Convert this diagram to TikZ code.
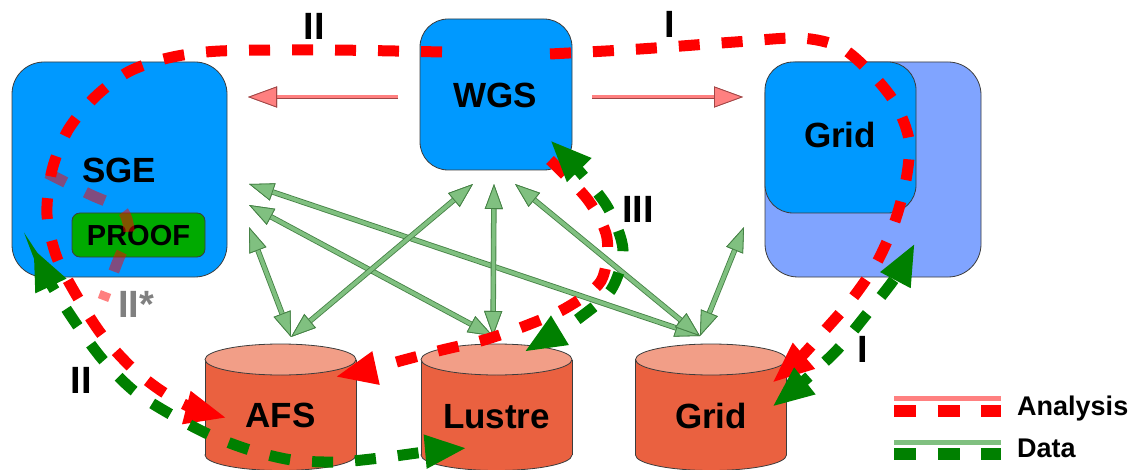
\documentclass[tikz,border=0pt]{standalone}
\usepackage{fontspec}
\setmainfont{Liberation Sans}
\usetikzlibrary{arrows.meta}
\definecolor{boxblue}{RGB}{0,153,255}
\definecolor{backblue}{RGB}{128,164,255}
\definecolor{proofgreen}{RGB}{0,170,0}
\definecolor{cylbody}{RGB}{234,97,64}
\definecolor{cyltop}{RGB}{242,158,135}
\definecolor{edgegray}{RGB}{60,60,60}
\definecolor{anared}{RGB}{255,0,0}
\definecolor{datagreen}{RGB}{0,128,0}
\definecolor{anapink}{RGB}{255,128,128}
\definecolor{anaborder}{RGB}{160,70,70}
\definecolor{datalight}{RGB}{128,192,128}
\definecolor{databorder}{RGB}{70,130,70}
\definecolor{labelgray}{RGB}{128,128,128}
\tikzset{
  sysbox/.style={draw=edgegray, line width=0.8pt, fill=boxblue, inner sep=0pt},
  bigtext/.style={font=\fontsize{35}{40}\selectfont\bfseries, inner sep=0pt, anchor=base},
  routelbl/.style={font=\fontsize{38}{42}\selectfont\bfseries, inner sep=0pt, anchor=base},
  legtext/.style={font=\fontsize{27}{30}\selectfont\bfseries, inner sep=0pt, anchor=base west},
  cylline/.style={draw=edgegray, line width=0.8pt},
  pinkarrow/.style={draw=anapink, line width=3pt,
    -{Triangle[length=29pt,width=21pt,fill=anapink,color=anaborder,line width=0.8pt]},
    preaction={draw=anaborder, line width=4.6pt}},
  greenarrow/.style={draw=datalight, line width=3.8pt,
    {Triangle[length=25pt,width=18pt,fill=datalight,color=databorder,line width=0.8pt]}-{Triangle[length=25pt,width=18pt,fill=datalight,color=databorder,line width=0.8pt]},
    preaction={draw=databorder, line width=5.5pt}},
  routeline/.style={line width=11pt, dash pattern=on 21pt off 22pt},
  anaroute/.style={routeline, draw=anared},
  dataroute/.style={routeline, draw=datagreen},
  headend/.style={-{Triangle[length=42pt,width=31pt]}},
  headboth/.style={{Triangle[length=42pt,width=31pt]}-{Triangle[length=42pt,width=31pt]}},
}
\newcommand\drawcyl[1]{%
  \fill[cylbody, cylline] (#1,455) ellipse [x radius=75.5, y radius=15.5];
  \fill[cylbody] (#1-75.5,359.5) rectangle (#1+75.5,455);
  \draw[cylline] (#1-75.5,359.5) -- (#1-75.5,455) (#1+75.5,359.5) -- (#1+75.5,455);
  \filldraw[fill=cyltop, cylline] (#1,359.5) ellipse [x radius=75.5, y radius=15.5];
}
\begin{document}
\begin{tikzpicture}[x=1pt,y=-1pt]
\useasboundingbox (0,0) rectangle (1134,470);

% boxes
\node[sysbox, rounded corners=32pt, minimum width=215pt, minimum height=215pt] (sge) at (119.5,169.5) {};
\node[draw=edgegray, line width=0.8pt, fill=proofgreen, rounded corners=8pt, minimum width=133pt, minimum height=44pt, inner sep=0pt] (proof) at (138.5,235) {};
\node[sysbox, rounded corners=28pt, minimum width=152pt, minimum height=151pt] (wgs) at (496,94.5) {};
\node[sysbox, fill=backblue, rounded corners=33pt, minimum width=216pt, minimum height=215pt] (gridback) at (873,169.5) {};
\node[sysbox, rounded corners=28pt, minimum width=151pt, minimum height=151pt] (gridfront) at (840.5,137.5) {};

% cylinders
\drawcyl{280.5}
\drawcyl{496.5}
\drawcyl{711}

% texts of boxes
\node[bigtext] (sget) at (119,183) {SGE};
\node[font=\fontsize{29}{32}\selectfont\bfseries, inner sep=0pt, anchor=base] (prooft) at (138.5,245) {PROOF};
\node[bigtext] (wgst) at (495,108) {WGS};
\node[bigtext] (gridt) at (840,148) {Grid};
\node[bigtext] (afs) at (280.5,427) {AFS};
\node[bigtext] (lustre) at (496.5,428) {Lustre};
\node[bigtext] (gridc) at (711,428) {Grid};

% end points
\coordinate (wgsL) at (398,97);
\coordinate (sgeR) at (248,97);
\coordinate (wgsR) at (592,97);
\coordinate (gridL) at (743,97);
\coordinate (sgeA1) at (249,184);
\coordinate (sgeA2) at (249,205);
\coordinate (sgeA3) at (249,227);
\coordinate (wgsB1) at (473,184);
\coordinate (wgsB2) at (494,184);
\coordinate (wgsB3) at (515,184);
\coordinate (gridR) at (744,227);
\coordinate (afsT) at (291,337);
\coordinate (lusT) at (493,336);
\coordinate (grcT) at (700,336);

% analysis solid arrows
\draw[pinkarrow] (wgsL) -- (sgeR);
\draw[pinkarrow] (wgsR) -- (gridL);

% data solid arrows
\draw[greenarrow] (sgeA1) -- (grcT);
\draw[greenarrow] (sgeA2) -- (lusT);
\draw[greenarrow] (sgeA3) -- (afsT);
\draw[greenarrow] (wgsB1) -- (afsT);
\draw[greenarrow] (wgsB2) -- (lusT);
\draw[greenarrow] (wgsB3) -- (grcT);
\draw[greenarrow] (gridR) -- (grcT);

% route end points
\coordinate (wgsTL) at (442,52);
\coordinate (wgsTR) at (550,54);
\coordinate (afsL) at (227,418);
\coordinate (grcTR) at (772,383);
\coordinate (sgeBL) at (33,248);
\coordinate (lusL) at (467,448);
\coordinate (wgsBR) at (550,160);
\coordinate (afsR) at (335,377);
\coordinate (wgsBR2) at (550,140);
\coordinate (lusR) at (524,352);
\coordinate (grcR) at (772,407);
\coordinate (gridB) at (915,243);
\coordinate (starA) at (47,173);
\coordinate (starB) at (103,300);

% route II* (faded)
\draw[anaroute, draw opacity=0.5] plot[smooth] coordinates {(starA) (89,194) (122,210) (129,235) (119,258) (starB)};

% route I (analysis)
\draw[anaroute, headend] plot[smooth] coordinates {(wgsTR) (640,49) (735,42) (800,38) (840,47) (870,72) (895,103) (909,140) (906,180) (894,224) (876,264) (852,299) (826,329) (800,358) (grcTR)};
% route II (analysis)
\draw[anaroute, headend] plot[smooth] coordinates {(wgsTL) (330,50) (220,51) (168,58) (128,72) (95,97) (68,130) (52,170) (47,215) (57,258) (78,298) (102,335) (131,367) (160,390) (190,407) (afsL)};
% route III (analysis)
\draw[anaroute, headend] plot[smooth] coordinates {(wgsBR) (588,200) (607,238) (601,281) (566,308) (525,326) (484,340) (442,350) (400,361) (375,368) (afsR)};

% data routes
\draw[dataroute, headboth] plot[smooth] coordinates {(sgeBL) (52,286) (77,325) (103,360) (134,391) (170,414) (210,435) (250,450) (292,460) (337,462) (380,458) (425,452) (lusL)};
\draw[dataroute, headboth] plot[smooth] coordinates {(wgsBR2) (580,172) (608,208) (623,250) (611,290) (578,319) (552,335) (lusR)};
\draw[dataroute, headboth] plot[smooth] coordinates {(grcR) (805,380) (838,349) (866,315) (895,278) (gridB)};

% route labels
\node[routelbl] (lblIIa) at (314,40) {II};
\node[routelbl] (lblIa) at (670,38) {I};
\node[routelbl] (lblIII) at (638,223) {III};
\node[routelbl, text=labelgray] (lblIIs) at (136,317) {II*};
\node[routelbl] (lblIIb) at (81,393) {II};
\node[routelbl] (lblIb) at (863,362) {I};

% legend
\coordinate (la1) at (894,398); \coordinate (la2) at (1001,398);
\coordinate (lb1) at (894,411); \coordinate (lb2) at (1001,411);
\coordinate (lc1) at (894,442); \coordinate (lc2) at (1001,442);
\coordinate (ld1) at (894,454); \coordinate (ld2) at (1001,454);
\draw[anapink, line width=5pt] (la1) -- (la2);
\draw[anared, line width=12pt, dash pattern=on 22pt off 21.5pt] (lb1) -- (lb2);
\draw[datalight, line width=5pt] (lc1) -- (lc2);
\draw[datagreen, line width=12pt, dash pattern=on 22pt off 21.5pt] (ld1) -- (ld2);
\node[legtext] (legana) at (1017,415) {Analysis};
\node[legtext] (legdata) at (1017,457) {Data};
\end{tikzpicture}
\end{document}
